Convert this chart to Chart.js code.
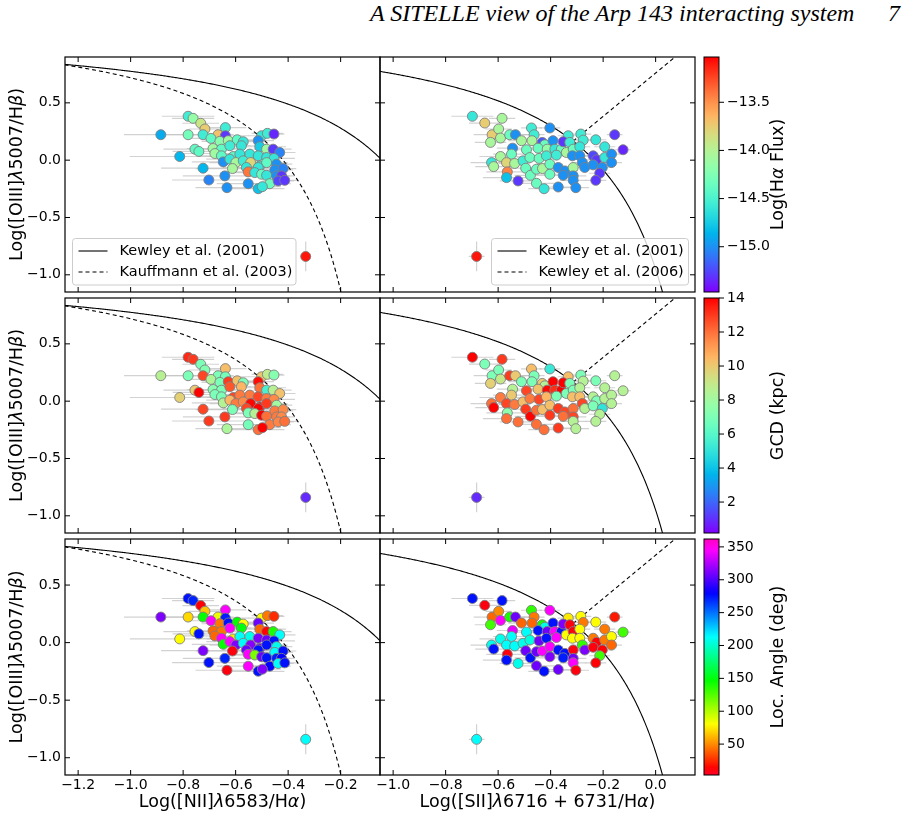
<!DOCTYPE html>
<html>
<head>
<meta charset="utf-8">
<script src="https://cdn.jsdelivr.net/npm/chart.js@4.4.1/dist/chart.umd.min.js"></script>
<style>
  body { margin: 0; background: #fff; width: 909px; height: 818px; position: relative; overflow: hidden; }
  canvas { position: absolute; left: 0; top: 0; }
  .hdr { position: absolute; top: 0px; font: italic 24px "Liberation Serif", serif; color: #000; white-space: nowrap; }
</style>
</head>
<body>
<div class="hdr" style="left:370px">A SITELLE view of the Arp 143 interacting system</div>
<div class="hdr" style="left:888px">7</div>
<script>
// ---- left column: [NII]/Ha vs [OIII]/Hb
const niiX = [-0.781,-0.762,-0.733,-0.717,-0.639,-0.885,-0.781,-0.724,-0.667,-0.639,
  -0.501,-0.479,-0.454,-0.694,-0.660,-0.628,-0.594,-0.571,-0.686,-0.654,
  -0.622,-0.578,-0.514,-0.508,-0.482,-0.457,-0.432,-0.755,-0.740,-0.813,
  -0.679,-0.654,-0.609,-0.584,-0.546,-0.514,-0.482,-0.454,-0.647,-0.622,
  -0.599,-0.571,-0.543,-0.508,-0.482,-0.444,-0.724,-0.612,-0.559,-0.514,
  -0.451,-0.419,-0.552,-0.527,-0.501,-0.482,-0.444,-0.425,-0.641,-0.702,
  -0.552,-0.470,-0.438,-0.413,-0.633,-0.514,-0.498,-0.333];
const niiY = [0.383,0.365,0.322,0.272,0.284,0.222,0.222,0.222,0.222,0.213,
  0.213,0.234,0.228,0.190,0.164,0.170,0.178,0.161,0.102,0.096,
  0.126,0.126,0.170,0.117,0.096,0.096,0.067,0.096,0.076,0.032,
  0.058,0.038,0.032,0.053,0.053,0.038,0.023,0.015,-0.015,0.009,
  -0.021,-0.006,-0.021,-0.050,-0.021,-0.035,-0.070,-0.073,-0.064,-0.064,
  -0.085,-0.073,-0.102,-0.108,-0.123,-0.132,-0.137,-0.137,-0.137,-0.173,
  -0.205,-0.205,-0.181,-0.176,-0.240,-0.249,-0.231,-0.840];
const niiXerr = [0.10,0.08,0.07,0.06,0.08,0.14,0.10,0.06,0.06,0.09,
  0.05,0.06,0.04,0.08,0.07,0.09,0.06,0.05,0.10,0.07,
  0.08,0.06,0.06,0.10,0.05,0.07,0.06,0.12,0.10,0.19,
  0.12,0.09,0.10,0.07,0.08,0.06,0.06,0.08,0.12,0.09,
  0.10,0.08,0.07,0.06,0.08,0.06,0.16,0.14,0.09,0.07,
  0.07,0.05,0.10,0.08,0.06,0.06,0.05,0.05,0.16,0.14,
  0.12,0.08,0.06,0.05,0.12,0.10,0.07,0.02];
const niiYerr = [0.04,0.03,0.03,0.03,0.04,0.03,0.04,0.03,0.03,0.04,
  0.03,0.04,0.03,0.03,0.03,0.04,0.03,0.03,0.03,0.03,
  0.04,0.03,0.04,0.04,0.04,0.04,0.05,0.03,0.03,0.04,
  0.03,0.03,0.03,0.03,0.03,0.04,0.03,0.04,0.04,0.03,
  0.03,0.03,0.03,0.03,0.03,0.04,0.04,0.03,0.03,0.03,
  0.04,0.04,0.03,0.03,0.03,0.03,0.04,0.04,0.04,0.04,
  0.04,0.03,0.04,0.04,0.04,0.04,0.04,0.13];
const niiFlux = [-14.55,-14.15,-13.9,-13.75,-14.55,-14.9,-14.3,-14.55,-13.7,-15.3,
  -14.6,-14.55,-15.35,-14.4,-14.2,-14.1,-14.4,-14.6,-14.1,-14.4,
  -14.55,-14.6,-15.0,-14.75,-14.1,-15.3,-15.05,-14.4,-14.4,-14.85,
  -14.1,-14.4,-14.4,-14.6,-14.6,-14.6,-14.6,-14.6,-15.0,-14.6,
  -14.05,-14.55,-13.8,-14.6,-14.4,-15.0,-14.85,-14.05,-14.6,-14.6,
  -15.0,-15.05,-13.4,-14.6,-14.4,-14.6,-15.0,-15.3,-15.0,-15.05,
  -15.0,-14.35,-15.25,-15.3,-15.0,-14.8,-14.6,-13.1];
const niiGcd = [13.3,13.0,7.0,7.2,10.3,8.6,7.0,12.8,7.0,6.8,
  10.0,8.8,7.3,8.4,7.0,13.0,10.2,7.0,7.3,7.0,
  12.5,10.5,13.8,12.0,5.6,8.6,10.2,10.0,14.0,9.8,
  7.0,7.0,12.8,11.8,11.8,12.8,11.8,11.5,8.5,10.5,
  11.8,11.5,13.9,13.8,13.0,8.0,12.8,7.0,12.8,14.0,
  11.8,11.5,7.0,8.5,14.0,12.0,11.8,11.5,13.0,13.0,
  6.8,11.8,11.6,12.0,8.3,12.0,14.0,0.9];
const niiAngle = [275,270,12,65,345,312,70,145,85,272,
  80,45,25,345,45,275,145,80,40,45,
  345,150,308,40,15,140,212,80,275,80,
  40,345,75,212,208,312,308,275,145,345,
  312,212,315,312,275,208,312,10,308,275,
  212,275,345,115,308,275,272,280,270,275,
  345,280,212,275,10,275,312,212];

// ---- right column: [SII]/Ha vs [OIII]/Hb
const siiX = [-0.698,-0.651,-0.585,-0.623,-0.598,-0.629,-0.591,-0.556,-0.534,-0.511,
  -0.473,-0.463,-0.471,-0.403,-0.545,-0.549,-0.432,-0.422,-0.391,-0.492,
  -0.448,-0.413,-0.384,-0.359,-0.333,-0.352,-0.327,-0.285,-0.276,-0.340,
  -0.314,-0.289,-0.228,-0.194,-0.156,-0.124,-0.591,-0.568,-0.625,-0.617,
  -0.537,-0.505,-0.479,-0.444,-0.416,-0.378,-0.317,-0.289,-0.238,-0.225,
  -0.194,-0.168,-0.168,-0.565,-0.568,-0.524,-0.495,-0.477,-0.454,-0.431,
  -0.403,-0.403,-0.371,-0.346,-0.352,-0.314,-0.314,-0.279,-0.270,-0.238,
  -0.203,-0.213,-0.228,-0.314,-0.454,-0.425,-0.371,-0.304,-0.682];
const siiY = [0.383,0.324,0.365,0.222,0.272,0.155,0.193,0.222,0.222,0.170,
  0.281,0.222,0.170,0.281,0.105,0.053,0.155,0.134,0.170,0.091,
  0.105,0.096,0.096,0.096,0.213,0.161,0.155,0.228,0.175,0.067,
  0.096,0.117,0.178,0.117,0.222,0.091,0.032,-0.021,-0.021,-0.056,
  -0.029,-0.006,0.023,0.015,0.038,0.044,0.038,0.038,0.038,0.003,
  0.023,0.053,-0.021,-0.102,-0.152,-0.181,-0.070,-0.132,-0.079,-0.073,
  -0.035,-0.123,-0.064,-0.094,-0.132,-0.064,-0.137,-0.021,-0.064,-0.041,
  -0.064,-0.114,-0.176,-0.176,-0.202,-0.249,-0.234,-0.240,-0.840];
const siiXerr = [0.08,0.06,0.05,0.07,0.05,0.06,0.05,0.06,0.05,0.05,
  0.04,0.04,0.05,0.04,0.06,0.07,0.04,0.04,0.04,0.05,
  0.04,0.04,0.04,0.04,0.04,0.04,0.04,0.04,0.04,0.05,
  0.04,0.04,0.04,0.04,0.03,0.03,0.08,0.07,0.08,0.07,
  0.06,0.05,0.05,0.05,0.05,0.05,0.04,0.04,0.04,0.04,
  0.04,0.04,0.04,0.08,0.09,0.07,0.06,0.06,0.06,0.05,
  0.05,0.05,0.05,0.05,0.05,0.05,0.05,0.04,0.04,0.04,
  0.04,0.04,0.04,0.05,0.07,0.06,0.05,0.05,0.03];
const siiYerr = [0.04,0.03,0.03,0.03,0.03,0.03,0.03,0.04,0.03,0.03,
  0.03,0.03,0.03,0.04,0.03,0.03,0.04,0.03,0.04,0.03,
  0.03,0.03,0.03,0.03,0.03,0.04,0.03,0.03,0.03,0.03,
  0.03,0.03,0.03,0.03,0.04,0.04,0.03,0.03,0.03,0.03,
  0.03,0.03,0.03,0.03,0.03,0.03,0.04,0.04,0.04,0.04,
  0.03,0.04,0.04,0.03,0.04,0.04,0.03,0.03,0.03,0.03,
  0.03,0.03,0.04,0.04,0.04,0.03,0.04,0.04,0.04,0.04,
  0.04,0.04,0.04,0.04,0.03,0.04,0.04,0.04,0.13];
const siiFlux = [-14.6,-13.75,-14.05,-13.75,-14.05,-14.05,-14.05,-14.35,-15.0,-14.05,
  -14.55,-14.55,-14.05,-15.0,-15.0,-14.35,-15.2,-14.35,-15.0,-14.35,
  -14.35,-14.15,-14.6,-14.35,-14.55,-15.3,-14.55,-14.55,-14.55,-14.05,
  -14.35,-14.6,-14.6,-14.6,-15.3,-15.35,-14.05,-13.8,-14.6,-14.05,
  -14.05,-14.55,-14.35,-14.35,-14.55,-14.55,-15.0,-15.0,-15.25,-15.3,
  -14.6,-15.0,-15.0,-13.45,-14.8,-15.3,-14.35,-14.35,-14.35,-14.05,
  -14.35,-14.35,-15.0,-15.0,-15.0,-14.05,-15.0,-15.0,-15.0,-15.0,
  -15.0,-15.3,-15.3,-15.0,-14.35,-14.6,-15.0,-15.0,-13.1];
const siiGcd = [14,7,13,7,7,9.8,9,13,10,7,
  10.3,7,7,5.2,8.5,10,10,8.5,14,12.8,
  10.2,13.9,13.2,14,10.3,14,7,7,8.5,7,
  7,8.5,7,8.5,8.5,8.5,11.8,12.8,12,14,
  11.8,10.3,11.8,12.8,10.5,7,10.3,10.3,8.5,7,
  8.5,8.5,8.5,7.5,12,12,13,14,12,10.3,
  10.3,13,13,12.8,12,12,12.8,12.8,8.5,7,
  5,8.5,8.5,8.5,12,12,13,8.5,0.9];
const siiAngle = [275,10,275,40,50,130,345,140,308,40,
  135,45,40,345,340,212,140,208,275,212,
  275,308,345,275,75,312,10,80,45,80,
  10,80,80,45,20,130,208,212,208,275,
  212,208,205,308,275,345,80,80,45,12,
  45,80,40,10,275,208,308,275,308,345,
  345,312,275,275,272,10,308,135,312,10,
  12,130,12,345,308,275,308,10,212];

// ---- axes and colour scales
const niiRange = [-1.25, -0.05];
const siiRange = [-1.05, 0.15];
const oiiiRange = [-1.15, 0.9];
const niiTicks = [-1.2, -1.0, -0.8, -0.6, -0.4, -0.2];
const siiTicks = [-1.0, -0.8, -0.6, -0.4, -0.2, 0.0];
const oiiiTicks = [0.5, 0.0, -0.5, -1.0];
const fluxRange = [-15.47, -13.03];
const fluxTicks = [-13.5, -14.0, -14.5, -15.0];
const gcdRange = [0.18, 14.0];
const gcdTicks = [2, 4, 6, 8, 10, 12, 14];
const angleRange = [3, 362];
const angleTicks = [50, 100, 150, 200, 250, 300, 350];

// demarcation lines (published formulas)
const kewley01Nii = x => 0.61 / (x - 0.47) + 1.19;
const kauffmann03 = x => 0.61 / (x - 0.05) + 1.3;
const kewley01Sii = x => 0.72 / (x - 0.32) + 1.30;
const kewley06Sii = x => 1.89 * x + 0.76;

const FONT = 'DejaVu Sans';
const W = 909, H = 818;
const colX = [[65, 380], [380, 695]];
const rowY = [[57, 292], [298, 533], [539, 775]];
const cbarX = [704, 719];

// matplotlib 'rainbow'
function rainbow(t) {
  t = Math.max(0, Math.min(1, t));
  const r = Math.min(1, Math.abs(2 * t - 0.5));
  const g = Math.sin(Math.PI * t);
  const b = Math.cos(Math.PI * t / 2);
  return `rgb(${Math.round(r * 255)},${Math.round(g * 255)},${Math.round(b * 255)})`;
}
// matplotlib 'gist_rainbow'
const gistStops = [[0, 1, 0, 0.16], [0.03, 1, 0, 0], [0.215, 1, 1, 0], [0.4, 0, 1, 0],
  [0.586, 0, 1, 1], [0.77, 0, 0, 1], [0.954, 1, 0, 1], [1, 1, 0, 0.75]];
function gistRainbow(t) {
  t = Math.max(0, Math.min(1, t));
  let i = 0;
  while (i < gistStops.length - 2 && t > gistStops[i + 1][0]) i++;
  const a = gistStops[i], b = gistStops[i + 1];
  const f = (t - a[0]) / (b[0] - a[0]);
  const c = [1, 2, 3].map(k => Math.round((a[k] + (b[k] - a[k]) * f) * 255));
  return `rgb(${c[0]},${c[1]},${c[2]})`;
}
const cmaps = [rainbow, rainbow, gistRainbow];
const fmt = (v, d) => (v < 0 ? '\u2212' : '') + Math.abs(v).toFixed(d);

function curve(f, x0, x1) {
  const pts = [];
  for (let i = 0; i <= 300; i++) {
    const x = x0 + (x1 - x0) * i / 300;
    pts.push({ x, y: f(x) });
  }
  return pts;
}

// text with italic greek parts
function richText(ctx, parts, x, y, size, rot) {
  ctx.save();
  ctx.translate(x, y);
  ctx.rotate(rot);
  ctx.textBaseline = 'middle';
  ctx.textAlign = 'left';
  ctx.fillStyle = '#000';
  const fontOf = p => (p[1] ? 'italic ' : '') + size + 'px "' + FONT + '"';
  let total = 0;
  parts.forEach(p => { ctx.font = fontOf(p); total += ctx.measureText(p[0]).width; });
  let cx = -total / 2;
  parts.forEach(p => {
    ctx.font = fontOf(p);
    ctx.fillText(p[0], cx, 0);
    cx += ctx.measureText(p[0]).width;
  });
  ctx.restore();
}

function newCanvas() {
  const cv = document.createElement('canvas');
  cv.width = W; cv.height = H;
  document.body.appendChild(cv);
  return cv;
}

function makePanel(col, row) {
  const xs = col === 0 ? niiX : siiX;
  const ys = col === 0 ? niiY : siiY;
  const xe = col === 0 ? niiXerr : siiXerr;
  const ye = col === 0 ? niiYerr : siiYerr;
  const cvals = [[niiFlux, niiGcd, niiAngle], [siiFlux, siiGcd, siiAngle]][col][row];
  const crange = [fluxRange, gcdRange, angleRange][row];
  const colors = cvals.map(v => cmaps[row]((v - crange[0]) / (crange[1] - crange[0])));
  const xr = col === 0 ? niiRange : siiRange;
  const xt = col === 0 ? niiTicks : siiTicks;
  const [L, R] = colX[col], [T, B] = rowY[row];
  const yAxisW = col === 0 ? L : 0;
  const xAxisH = row === 2 ? H - B : 0;

  const lines = col === 0 ? [
    { data: curve(kewley01Nii, -1.3, 0.0), dash: [] },
    { data: curve(kauffmann03, -1.3, -0.19), dash: [4, 3] }
  ] : [
    { data: curve(kewley01Sii, -1.1, 0.06), dash: [] },
    { data: curve(kewley06Sii, -0.3146, 0.12), dash: [4, 3] }
  ];

  const errorBars = {
    id: 'errorBars',
    beforeDatasetsDraw(chart) {
      const { ctx, chartArea: a, scales: { x, y } } = chart;
      ctx.save();
      ctx.beginPath(); ctx.rect(a.left, a.top, a.width, a.height); ctx.clip();
      ctx.strokeStyle = 'rgba(195,195,195,0.75)';
      ctx.lineWidth = 1.2;
      xs.forEach((v, i) => {
        const px = x.getPixelForValue(v), py = y.getPixelForValue(ys[i]);
        ctx.beginPath();
        ctx.moveTo(x.getPixelForValue(v - xe[i]), py); ctx.lineTo(x.getPixelForValue(v + xe[i]), py);
        ctx.moveTo(px, y.getPixelForValue(ys[i] - ye[i])); ctx.lineTo(px, y.getPixelForValue(ys[i] + ye[i]));
        ctx.stroke();
      });
      ctx.restore();
    }
  };

  const frame = {
    id: 'frame',
    afterDraw(chart) {
      const { ctx, chartArea: a, scales: { x, y } } = chart;
      ctx.save();
      ctx.strokeStyle = '#000';
      ctx.lineWidth = 1.2;
      ctx.strokeRect(a.left, a.top, a.width, a.height);
      ctx.lineWidth = 1;
      ctx.beginPath();
      xt.forEach(v => {
        const px = x.getPixelForValue(v);
        ctx.moveTo(px, a.bottom); ctx.lineTo(px, a.bottom - 5);
        ctx.moveTo(px, a.top); ctx.lineTo(px, a.top + 5);
      });
      oiiiTicks.forEach(v => {
        const py = y.getPixelForValue(v);
        ctx.moveTo(a.left, py); ctx.lineTo(a.left + 5, py);
        ctx.moveTo(a.right, py); ctx.lineTo(a.right - 5, py);
      });
      ctx.stroke();

      if (col === 0) {
        richText(ctx, [['Log([OIII]', 0], ['\u03bb', 1], ['5007/H', 0], ['\u03b2', 1], [')', 0]],
          17, (a.top + a.bottom) / 2, 17.5, -Math.PI / 2);
      }
      if (row === 2) {
        const parts = col === 0
          ? [['Log([NII]', 0], ['\u03bb', 1], ['6583/H', 0], ['\u03b1', 1], [')', 0]]
          : [['Log([SII]', 0], ['\u03bb', 1], ['6716 + 6731/H', 0], ['\u03b1', 1], [')', 0]];
        richText(ctx, parts, (a.left + a.right) / 2, 802, 17.5, 0);
      }
      if (row === 0) {
        const names = col === 0 ? ['Kewley et al. (2001)', 'Kauffmann et al. (2003)']
                                : ['Kewley et al. (2001)', 'Kewley et al. (2006)'];
        const bx = col === 0 ? 72.5 : 491.5, bw = col === 0 ? 223.5 : 197, by = 238.5, bh = 46.5;
        ctx.fillStyle = 'rgba(255,255,255,0.8)';
        ctx.strokeStyle = '#cccccc';
        ctx.lineWidth = 1;
        ctx.beginPath();
        ctx.roundRect(bx, by, bw, bh, 3);
        ctx.fill(); ctx.stroke();
        names.forEach((n, i) => {
          const yy = by + 12.5 + i * 21;
          ctx.strokeStyle = '#000';
          ctx.lineWidth = 1.1;
          ctx.setLineDash(i === 0 ? [] : [4, 3]);
          ctx.beginPath(); ctx.moveTo(bx + 6, yy); ctx.lineTo(bx + 35, yy); ctx.stroke();
          ctx.setLineDash([]);
          ctx.fillStyle = '#000';
          ctx.font = '14.5px "' + FONT + '"';
          ctx.textBaseline = 'middle';
          ctx.textAlign = 'left';
          ctx.fillText(n, bx + 47, yy);
        });
      }
      ctx.restore();
    }
  };

  new Chart(newCanvas(), {
    type: 'scatter',
    data: {
      datasets: [
        {
          data: xs.map((v, i) => ({ x: v, y: ys[i] })),
          backgroundColor: colors,
          borderColor: '#7f7f7f',
          borderWidth: 0.9,
          pointRadius: 5
        },
        ...lines.map(l => ({
          data: l.data, showLine: true, pointRadius: 0,
          borderColor: '#000', borderWidth: 1.1, borderDash: l.dash
        }))
      ]
    },
    options: {
      responsive: false,
      animation: false,
      events: [],
      layout: { padding: { left: L - yAxisW, right: W - R, top: T, bottom: H - B - xAxisH } },
      plugins: { legend: { display: false }, tooltip: { enabled: false } },
      scales: {
        x: {
          type: 'linear', min: xr[0], max: xr[1],
          afterFit(s) { s.height = xAxisH; },
          afterBuildTicks(s) { s.ticks = xt.map(v => ({ value: v })); },
          grid: { display: false, drawTicks: false },
          border: { display: false },
          ticks: { display: row === 2, padding: 2, color: '#000', font: { family: FONT, size: 14 },
                   maxRotation: 0, callback: v => fmt(v, 1) }
        },
        y: {
          type: 'linear', min: oiiiRange[0], max: oiiiRange[1],
          afterFit(s) { s.width = yAxisW; },
          afterBuildTicks(s) { s.ticks = oiiiTicks.map(v => ({ value: v })); },
          grid: { display: false, drawTicks: false },
          border: { display: false },
          ticks: { display: col === 0, padding: 4, color: '#000', font: { family: FONT, size: 14 },
                   callback: v => fmt(v, 1) }
        }
      }
    },
    plugins: [errorBars, frame]
  });
}

function makeColorbar(row) {
  const range = [fluxRange, gcdRange, angleRange][row];
  const ticks = [fluxTicks, gcdTicks, angleTicks][row];
  const cmap = cmaps[row];
  const label = [[['Log(H', 0], ['\u03b1', 1], [' Flux)', 0]], [['GCD (kpc)', 0]], [['Loc. Angle (deg)', 0]]][row];
  const [T, B] = rowY[row];
  const bar = {
    id: 'bar',
    beforeDraw(chart) {
      const { ctx, chartArea: a, scales: { y } } = chart;
      const g = ctx.createLinearGradient(0, a.bottom, 0, a.top);
      for (let i = 0; i <= 60; i++) g.addColorStop(i / 60, cmap(i / 60));
      ctx.save();
      ctx.fillStyle = g;
      ctx.fillRect(a.left, a.top, a.width, a.height);
      ctx.strokeStyle = '#000';
      ctx.lineWidth = 1;
      ctx.strokeRect(a.left, a.top, a.width, a.height);
      ctx.beginPath();
      ticks.forEach(v => {
        const py = y.getPixelForValue(v);
        ctx.moveTo(a.right, py); ctx.lineTo(a.right + 5, py);
      });
      ctx.stroke();
      richText(ctx, label, 778, (a.top + a.bottom) / 2, 17.5, -Math.PI / 2);
      ctx.restore();
    }
  };
  new Chart(newCanvas(), {
    type: 'scatter',
    data: { datasets: [] },
    options: {
      responsive: false,
      animation: false,
      events: [],
      layout: { padding: { left: cbarX[0], right: 0, top: T, bottom: H - B } },
      plugins: { legend: { display: false }, tooltip: { enabled: false } },
      scales: {
        x: { display: false, min: 0, max: 1 },
        y: {
          type: 'linear', position: 'right', min: range[0], max: range[1],
          afterFit(s) { s.width = W - cbarX[1]; },
          afterBuildTicks(s) { s.ticks = ticks.map(v => ({ value: v })); },
          grid: { display: false, drawTicks: false },
          border: { display: false },
          ticks: { padding: 8, color: '#000', font: { family: FONT, size: 14 },
                   callback: v => row === 0 ? fmt(v, 1) : String(v) }
        }
      }
    },
    plugins: [bar]
  });
}

for (let row = 0; row < 3; row++) {
  makePanel(0, row);
  makePanel(1, row);
  makeColorbar(row);
}
</script>
</body>
</html>
